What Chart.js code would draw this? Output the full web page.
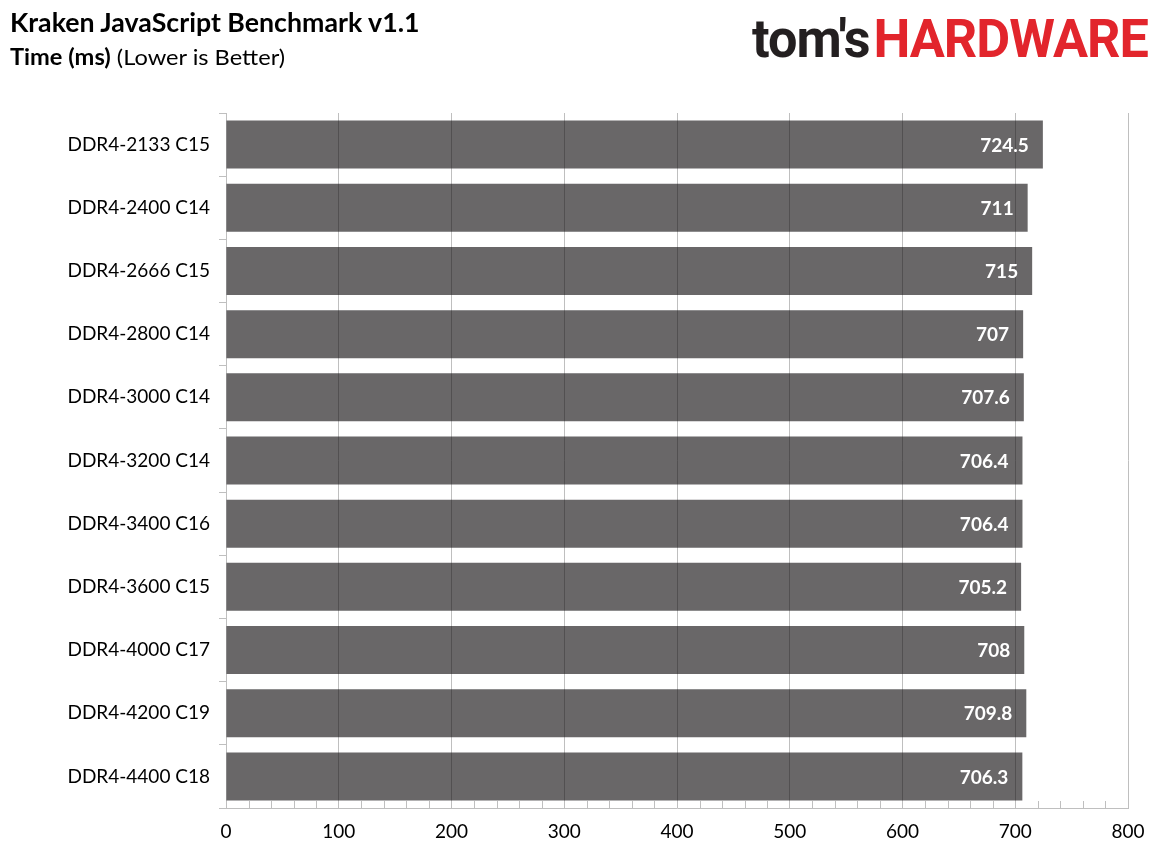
<!DOCTYPE html>
<html>
<head>
<meta charset="utf-8">
<script src="https://cdn.jsdelivr.net/npm/chart.js@4.4.1/dist/chart.umd.min.js"></script>
<style>
  html, body { margin: 0; padding: 0; background: #fff; }
  #wrap { position: relative; width: 1163px; height: 861px; overflow: hidden; }
  canvas { position: absolute; left: 0; top: 0; }
  .title { position: absolute; left: 10px; top: 6px; font-family: Lato, sans-serif; font-weight: 700; font-size: 26px; color: #000; white-space: nowrap; transform-origin: 0 0; }
  .subtitle { position: absolute; left: 10px; top: 43px; font-family: Lato, sans-serif; font-size: 22px; color: #000; white-space: nowrap; transform-origin: 0 0; }
  .subtitle b { font-weight: 700; }
  .logo { position: absolute; left: 752px; top: 8px; font-family: Roboto, sans-serif; font-weight: 700; font-size: 53px; white-space: nowrap; transform-origin: 0 0; letter-spacing: -1px; }
  .logo .toms { color: #231f20; }
  .logo .hw { color: #e2252c; margin-left: 4px; }
</style>
</head>
<body>
<div id="wrap">
  <canvas id="chart" width="1163" height="861"></canvas>
  <div class="title" id="title">Kraken JavaScript Benchmark v1.1</div>
  <div class="subtitle" id="subtitle"><b>Time (ms)</b> (Lower is Better)</div>
  <div class="logo" id="logo"><span class="toms">tom's</span><span class="hw">HARDWARE</span></div>
</div>
<script>
// --- DATA ---
const categories = ['DDR4-2133 C15', 'DDR4-2400 C14', 'DDR4-2666 C15', 'DDR4-2800 C14', 'DDR4-3000 C14',
  'DDR4-3200 C14', 'DDR4-3400 C16', 'DDR4-3600 C15', 'DDR4-4000 C17', 'DDR4-4200 C19', 'DDR4-4400 C18'];
const times = [724.5, 711, 715, 707, 707.6, 706.4, 706.4, 705.2, 708, 709.8, 706.3];
const xMin = 0, xMax = 800, xStep = 100, minorStep = 20;

// squeeze header texts to the widths they have in the original
function fitWidth(id, w) {
  const el = document.getElementById(id);
  el.style.transform = `scaleX(${w / el.offsetWidth})`;
}
fitWidth('logo', 396);
fitWidth('title', 410);
fitWidth('subtitle', 275);

const gridColor = '#bfbfbf';
const FONT = 'Lato, sans-serif';

// white value labels at the bar end + small minor ticks on the x axis
const extras = {
  id: 'extras',
  afterDatasetsDraw(chart) {
    const { ctx, chartArea, scales } = chart;
    const x = scales.x;
    ctx.save();
    ctx.strokeStyle = gridColor;
    ctx.lineWidth = 1;
    for (let v = xMin + minorStep; v < xMax; v += minorStep) {
      if (v % xStep === 0) continue;
      const px = Math.round(x.getPixelForValue(v)) + 0.5;
      ctx.beginPath();
      ctx.moveTo(px, chartArea.bottom);
      ctx.lineTo(px, chartArea.bottom - 7);
      ctx.stroke();
    }
    ctx.fillStyle = '#fff';
    ctx.font = `bold 19px ${FONT}`;
    ctx.textAlign = 'right';
    ctx.textBaseline = 'middle';
    chart.getDatasetMeta(0).data.forEach((bar, i) => {
      ctx.fillText(String(times[i]), bar.x - 14, bar.y + 1);
    });
    ctx.restore();
  }
};

new Chart(document.getElementById('chart'), {
  type: 'bar',
  data: {
    labels: categories,
    datasets: [{
      data: times,
      backgroundColor: 'rgba(20,17,18,0.64)',
      borderWidth: 0,
      categoryPercentage: 1,
      barPercentage: 0.76
    }]
  },
  options: {
    indexAxis: 'y', responsive: false, animation: false, devicePixelRatio: 1,
    layout: { padding: { top: 113, right: 35, bottom: 0, left: 0 } },
    plugins: { legend: { display: false }, tooltip: { enabled: false } },
    scales: {
      x: {
        min: xMin, max: xMax,
        ticks: { stepSize: xStep, color: '#000', font: { family: FONT, size: 19 }, padding: 12 },
        grid: { color: gridColor, drawTicks: false },
        border: { color: gridColor },
        afterFit: s => { s.height = 53; }
      },
      y: {
        ticks: { color: '#000', font: { family: FONT, size: 19 }, padding: 9 },
        grid: { offset: true, drawOnChartArea: false, drawTicks: true, tickLength: 7, color: gridColor },
        border: { color: gridColor },
        afterFit: s => { s.width = 226; }
      }
    }
  },
  plugins: [extras]
});
</script>
</body>
</html>
